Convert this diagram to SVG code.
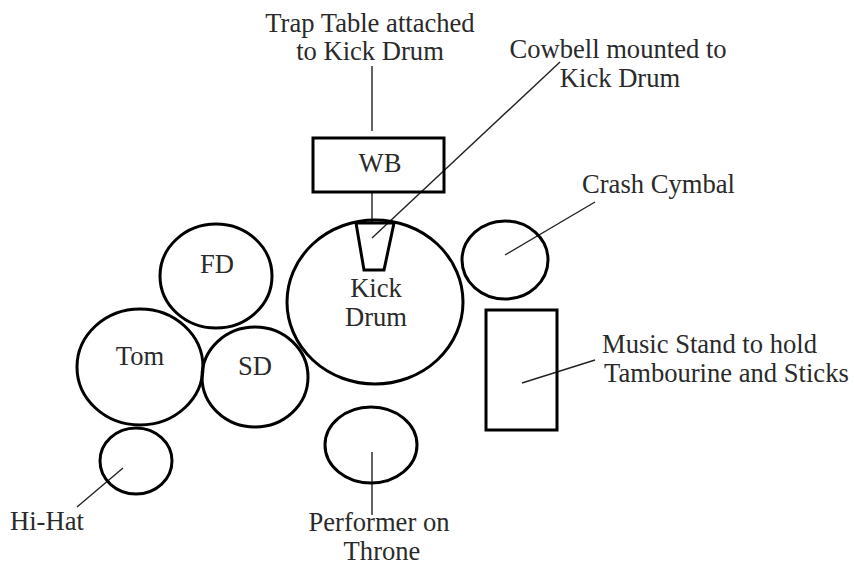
<svg xmlns="http://www.w3.org/2000/svg" width="854" height="566" viewBox="0 0 854 566">
<style>
.s{fill:none;stroke:#000;stroke-width:3}
.l{fill:none;stroke:#222;stroke-width:1.4}
text{font-family:"Liberation Serif","Times New Roman",serif;font-size:26.6px;fill:#2a2a2a}
.c{text-anchor:middle}
</style>
<rect width="854" height="566" fill="#fff"/>
<g id="connectors">
<line class="l" x1="372" y1="66" x2="372" y2="131"/>
<line class="l" x1="372" y1="192" x2="372" y2="222"/>
<line class="l" x1="372" y1="238" x2="560" y2="62"/>
<line class="l" x1="505" y1="255" x2="595" y2="202"/>
<line class="l" x1="522" y1="383" x2="595" y2="360"/>
<line class="l" x1="123" y1="468" x2="77" y2="507"/>
<line class="l" x1="372" y1="452" x2="372" y2="515"/>
</g>
<g id="trap-label"><text class="c" x="370" y="32">Trap Table attached</text><text class="c" x="370" y="60">to Kick Drum</text></g>
<g id="cowbell-label"><text class="c" x="618" y="58">Cowbell mounted to</text><text class="c" x="620" y="87">Kick Drum</text></g>
<g id="wb"><rect class="s" x="313" y="138" width="131" height="54"/><text class="c" x="380" y="172">WB</text></g>
<g id="kick"><ellipse class="s" cx="375" cy="302" rx="88" ry="82"/><text class="c" x="376" y="297">Kick</text><text class="c" x="376" y="326">Drum</text></g>
<g id="cowbell"><polygon class="s" points="356,223 394,223 384,270 364,270"/></g>
<g id="fd"><ellipse class="s" cx="216" cy="276" rx="56" ry="52"/><text class="c" x="217" y="273">FD</text></g>
<g id="tom"><ellipse class="s" cx="140" cy="367" rx="63" ry="58"/><text class="c" x="140" y="365">Tom</text></g>
<g id="sd"><ellipse class="s" cx="255" cy="377" rx="53" ry="50"/><text class="c" x="255" y="375">SD</text></g>
<g id="hihat"><ellipse class="s" cx="136" cy="461" rx="36" ry="33"/><text x="10" y="530">Hi-Hat</text></g>
<g id="crash"><ellipse class="s" cx="505" cy="260" rx="43" ry="39"/><text x="582" y="193">Crash Cymbal</text></g>
<g id="stand"><rect class="s" x="486" y="310" width="71" height="120"/><text x="602" y="353">Music Stand to hold</text><text x="604" y="382">Tambourine and Sticks</text></g>
<g id="throne"><ellipse class="s" cx="371" cy="445" rx="46" ry="38"/><text class="c" x="379" y="531">Performer on</text><text class="c" x="382" y="560">Throne</text></g>
</svg>
